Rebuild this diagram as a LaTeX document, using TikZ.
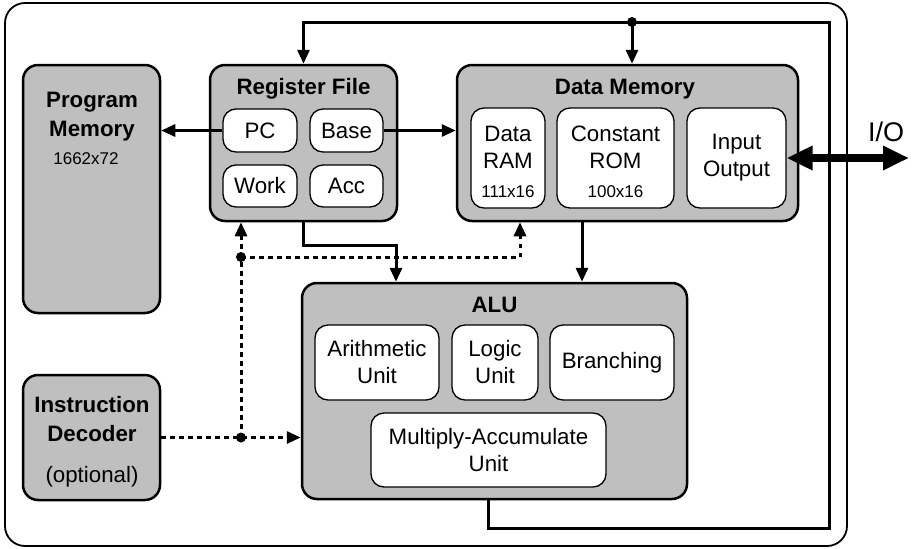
\documentclass[tikz,border=0pt]{standalone}
\usepackage{fontspec}
\setmainfont{Liberation Sans}
\usetikzlibrary{arrows.meta}
\begin{document}
\begin{tikzpicture}[x=1pt,y=-1pt,
  every node/.style={inner sep=0pt},
  txt/.style={font=\fontsize{22.3}{27}\selectfont, align=center},
  ttl/.style={font=\fontsize{22.3}{28.5}\selectfont\bfseries, align=center},
  small/.style={font=\fontsize{17}{20}\selectfont},
  block/.style={draw, line width=2.5pt, fill=gray!50, rounded corners=15pt},
  unit/.style={draw, line width=1.3pt, fill=white, rounded corners=13pt},
  wire/.style={line width=3pt},
  tip/.style={-{Triangle[length=14pt,width=12pt]}},
  ctrl/.style={line width=3pt, dash pattern=on 4.5pt off 4.5pt},
  dot/.style={circle, fill=black, minimum size=10pt}]
\useasboundingbox (0,0) rectangle (916,549);

% enclosing frame
\draw[line width=1.8pt, rounded corners=20pt] (5,3) rectangle (847,546);

% program memory and decoder
\node[block, minimum width=137pt, minimum height=248pt] (pm) at (91.5,189) {};
\node[ttl] at (92,116.5) {Program\\Memory};
\node[small] at (86,159) {1662x72};
\node[block, minimum width=137pt, minimum height=125pt] (id) at (91.5,437.5) {};
\node[ttl] at (92,419) {Instruction\\Decoder};
\node[txt] at (92,477) {(optional)};

% register file
\node[block, minimum width=187pt, minimum height=156pt] (rf) at (303.5,143) {};
\node[ttl] at (303.5,89) {Register File};
\node[unit, txt, minimum width=74pt, minimum height=43pt] (pc) at (260,130.5) {PC};
\node[unit, txt, minimum width=73pt, minimum height=43pt] (base) at (346.5,130.5) {Base};
\node[unit, txt, minimum width=74pt, minimum height=42pt] (work) at (260,186) {Work};
\node[unit, txt, minimum width=73pt, minimum height=42pt] (acc) at (346.5,186) {Acc};

% data memory
\node[block, minimum width=341pt, minimum height=156pt] (dm) at (627.5,143) {};
\node[ttl] at (625,89) {Data Memory};
\node[unit, minimum width=74pt, minimum height=100pt] (ram) at (508,158) {};
\node[txt] at (508,147.5) {Data\\RAM};
\node[small] at (508,192) {111x16};
\node[unit, minimum width=117pt, minimum height=100pt] (rom) at (615.5,158) {};
\node[txt] at (615.5,147.5) {Constant\\ROM};
\node[small] at (615.5,192) {100x16};
\node[unit, txt, minimum width=99pt, minimum height=100pt] (io) at (736.5,158) {Input\\Output};

% arithmetic logic unit
\node[block, minimum width=385pt, minimum height=216pt] (alu) at (494.5,391) {};
\node[ttl] at (494.5,305) {ALU};
\node[unit, txt, minimum width=124pt, minimum height=75pt] (ari) at (377,362.5) {Arithmetic\\Unit};
\node[unit, txt, minimum width=86pt, minimum height=75pt] (lgc) at (495,362.5) {Logic\\Unit};
\node[unit, txt, minimum width=124pt, minimum height=75pt] (brn) at (612,362.5) {Branching};
\node[unit, txt, minimum width=235pt, minimum height=74pt] (mac) at (488.5,450) {Multiply-Accumulate\\Unit};

% result bus from the ALU back to the register file and data memory
\coordinate (b1) at (488,528);
\coordinate (b2) at (829,528);
\coordinate (b3) at (829,22);
\coordinate (b4) at (303.5,22);
\coordinate (jb) at (632,22);
\draw[wire, tip] (alu.south -| b1) -- (b1) -- (b2) -- (b3) -- (b4) -- (rf.north);
\draw[wire, tip] (jb) -- (dm.north -| jb);
\node[dot] at (jb) {};

% register file connections
\draw[wire, tip] (pc.west) -- (pc.west -| pm.east);
\draw[wire, tip] (base.east) -- (base.east -| dm.west);
\coordinate (k1) at (303.5,245);
\coordinate (k2) at (396,245);
\draw[wire, tip] (rf.south) -- (k1) -- (k2) -- (k2 |- alu.north);
\coordinate (k3) at (582,0);
\draw[wire, tip] (dm.south -| k3) -- (alu.north -| k3);

% external port
\coordinate (ioend) at (909,158);
\draw[line width=8pt, {Triangle[length=26pt,width=23pt]}-{Triangle[length=26pt,width=23pt]}] (io.east) -- (ioend);
\node[font=\fontsize{27}{30}\selectfont] at (886,132) {I/O};

% control lines from the decoder
\coordinate (d1) at (241,437.5);
\coordinate (d2) at (241,257);
\coordinate (d3) at (520,257);
\draw[ctrl, tip] (id.east) -- (alu.west |- d1);
\draw[ctrl, tip] (d1) -- (rf.south -| d1);
\draw[ctrl, tip] (d2) -- (d3) -- (d3 |- dm.south);
\node[dot] at (d1) {};
\node[dot] at (d2) {};
\end{tikzpicture}
\end{document}
